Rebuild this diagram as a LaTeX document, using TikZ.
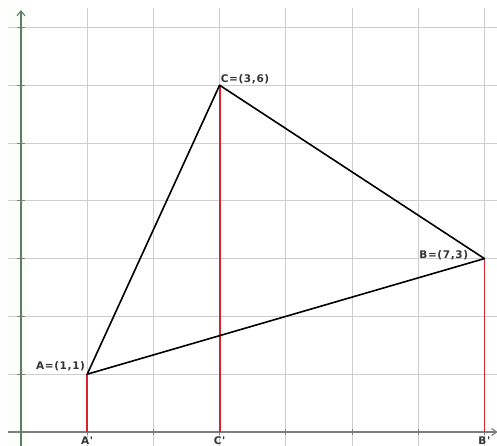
\documentclass[tikz,border=0pt]{standalone}
\usepackage{fontspec}
\usetikzlibrary{arrows.meta}
\newfontfamily\lblfont{DejaVu Sans}[LetterSpace=6]
\definecolor{gridc}{RGB}{205,205,205}
\definecolor{axisx}{RGB}{125,125,125}
\definecolor{axisy}{RGB}{95,125,100}
\definecolor{redl}{RGB}{215,35,45}
\tikzset{
  gridline/.style={gridc, line width=0.8pt},
  xaxis/.style={axisx, line width=1.2pt, -{Straight Barb[length=5pt,width=7pt]}},
  yaxis/.style={axisy, line width=1.1pt, -{Straight Barb[length=5pt,width=8pt]}},
  tri/.style={black, line width=1.6pt, line join=round},
  proj/.style={redl, line width=1.8pt},
  lbl/.style={inner sep=0pt, font=\lblfont\bfseries\fontsize{10.5}{11}\selectfont, text=black!80},
  tick/.style={axisx, line width=0.9pt}
}
\begin{document}
\begin{tikzpicture}
\useasboundingbox (0pt,0pt) rectangle (497pt,446pt);
\begin{scope}[shift={(21pt,14pt)}, x=66.2pt, y=57.8pt]
  % light halo along y axis
  \fill[green!30!white, opacity=0.06] (-0.17,-0.3) rectangle (0.12,7.35);
  % grid
  \foreach \i in {1,...,7} \draw[gridline] (\i,-0.25) -- (\i,7.34);
  \foreach \j in {1,...,7} \draw[gridline] (-0.2,\j) -- (7.2,\j);
  % axes
  \coordinate (xs) at (-0.2,0);
  \coordinate (xe) at (7.2,0);
  \coordinate (ys) at (0,-0.25);
  \coordinate (ye) at (0,7.3);
  \draw[xaxis] (xs) -- (xe);
  \draw[yaxis] (ys) -- (ye);
  % ticks
  \foreach \i in {1,...,7} \draw[tick] (\i,0) ++(0,-3pt) -- ++(0,6pt);
  \foreach \j in {1,...,7} \draw[tick] (0,\j) ++(-4pt,0) -- ++(8pt,0);
  % points
  \coordinate (A) at (1,1);
  \coordinate (B) at (7,3);
  \coordinate (C) at (3,6);
  \coordinate (Ap) at (1,0);
  \coordinate (Bp) at (7,0);
  \coordinate (Cp) at (3,0);
  % projections
  \draw[proj] (A) -- (Ap);
  \draw[proj] (C) -- (Cp);
  \draw[proj] (B) -- (Bp);
  % triangle
  \draw[tri] (A) -- (B) -- (C) -- cycle;
  % labels
  \node[lbl, anchor=south east, xshift=-2pt, yshift=3pt] (lA) at (A) {A=(1,1)};
  \node[lbl, anchor=south west, xshift=1pt, yshift=1pt] (lC) at (C) {C=(3,6)};
  \node[lbl, anchor=base east, xshift=-16pt, yshift=0pt] (lB) at (B) {B=(7,3)};
  \node[lbl, anchor=north, yshift=-5pt] (lAp) at (Ap) {A'};
  \node[lbl, anchor=north, yshift=-5pt] (lCp) at (Cp) {C'};
  \node[lbl, anchor=north, yshift=-5pt] (lBp) at (Bp) {B'};
\end{scope}
\end{tikzpicture}
\end{document}
